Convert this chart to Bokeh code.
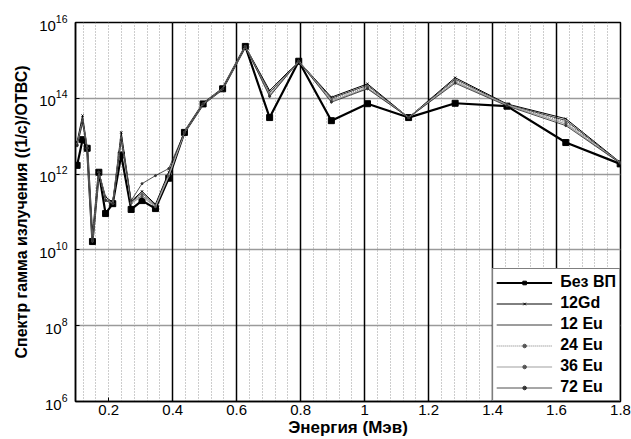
from bokeh.plotting import figure
from bokeh.models import (FixedTicker, Grid, Legend, LegendItem, ColumnDataSource, Range1d)
from bokeh.embed import file_html
from bokeh.resources import INLINE

# ---- data ----
energy = [0.101, 0.118, 0.1325, 0.149, 0.169, 0.19, 0.2125, 0.239, 0.27, 0.304, 0.346, 0.3875,
          0.4366, 0.495, 0.556, 0.627, 0.703, 0.794, 0.896, 1.009, 1.1375, 1.283, 1.445, 1.629, 1.799]

bez_vp = [1.70e12, 8.1e12, 4.8e12, 1.66e10, 1.12e12, 9.1e10, 1.66e11, 3.2e12, 1.17e11, 2.0e11, 1.23e11, 7.8e11,
          1.26e13, 7.1e13, 1.78e14, 2.34e15, 3.1e13, 9.5e14, 2.57e13, 7.2e13, 3.1e13, 7.4e13, 6.2e13, 6.8e12, 1.86e12]
gd12 = [7.1e12, 3.5e13, 5.0e12, 1.8e10, 1.12e12, 2.5e11, 1.8e11, 1.26e13, 1.9e11, 3.5e11, 1.6e11, 1.12e12,
        1.26e13, 7.1e13, 1.78e14, 2.34e15, 1.6e14, 9.5e14, 1.07e14, 2.4e14, 3.1e13, 3.5e14, 7.1e13, 2.9e13, 2.05e12]
eu12 = [6.3e12, 2.8e13, 4.9e12, 1.75e10, 1.12e12, 2.2e11, 1.75e11, 1.0e13, 1.8e11, 3.2e11, 1.48e11, 1.0e12,
        1.26e13, 7.1e13, 1.78e14, 2.34e15, 1.4e14, 9.5e14, 1.0e14, 2.2e14, 3.1e13, 3.2e14, 6.9e13, 2.6e13, 2.0e12]
eu24 = [6.0e12, 2.5e13, 4.9e12, 1.7e10, 1.12e12, 2.1e11, 1.7e11, 8.9e12, 1.75e11, 2.8e11, 1.41e11, 9.3e11,
        1.26e13, 7.1e13, 1.78e14, 2.34e15, 1.26e14, 9.5e14, 9.3e13, 2.0e14, 3.1e13, 2.9e14, 6.8e13, 2.35e13, 2.0e12]
eu36 = [5.8e12, 2.3e13, 4.8e12, 1.7e10, 1.12e12, 2.05e11, 1.68e11, 8.3e12, 1.7e11, 2.6e11, 1.38e11, 8.9e11,
        1.26e13, 7.1e13, 1.78e14, 2.34e15, 1.17e14, 9.5e14, 8.5e13, 1.86e14, 3.1e13, 2.7e14, 6.6e13, 2.1e13, 1.95e12]
eu72 = [5.6e12, 2.2e13, 4.8e12, 1.7e10, 1.12e12, 2.0e11, 1.66e11, 7.9e12, 2.0e11, 5.6e11, 9.1e11, 1.4e12,
        1.26e13, 7.1e13, 1.78e14, 2.34e15, 1.12e14, 9.5e14, 7.9e13, 1.78e14, 3.1e13, 2.5e14, 6.3e13, 1.9e13, 1.95e12]

x_ticks = [0.2, 0.4, 0.6, 0.8, 1.0, 1.2, 1.4, 1.6, 1.8]
y_ticks = [1e6, 1e8, 1e10, 1e12, 1e14, 1e16]
x_labels = {1.0: "1"}

FONT = "Liberation Sans"

src = ColumnDataSource(dict(x=energy, bez=bez_vp, gd12=gd12, eu12=eu12, eu24=eu24, eu36=eu36, eu72=eu72))

p = figure(width=631, height=439, x_range=Range1d(0.096, 1.8), y_range=Range1d(1e6, 1e16),
           y_axis_type="log", output_backend="svg", toolbar_location=None,
           min_border_left=75, min_border_right=11, min_border_top=22, min_border_bottom=38)
p.background_fill_color = "white"
p.border_fill_color = "white"
p.outline_line_color = "black"
p.outline_line_width = 1.5

# grids
p.xgrid.visible = False
p.ygrid.ticker = FixedTicker(ticks=[1e8, 1e10, 1e12, 1e14])
p.ygrid.grid_line_color = "#9a9a9a"
p.ygrid.grid_line_width = 1.5

minor_x = [round(0.12 + 0.04 * i, 2) for i in range(42)]
g_minor = Grid(dimension=0, ticker=FixedTicker(ticks=minor_x), grid_line_color="#9a9a9a",
               grid_line_dash="1 2", grid_line_width=1)
g_major = Grid(dimension=0, ticker=FixedTicker(ticks=[0.4, 0.6, 0.8, 1.0, 1.2, 1.4, 1.6]),
               grid_line_color="black", grid_line_width=1.5)
p.add_layout(g_minor)
p.add_layout(g_major)

# axes
p.xaxis.ticker = FixedTicker(ticks=x_ticks)
p.xaxis.major_label_overrides = x_labels
p.yaxis.ticker = FixedTicker(ticks=y_ticks)
for ax in (p.xaxis[0], p.yaxis[0]):
    ax.major_tick_out = 0
    ax.major_tick_in = 4
    ax.minor_tick_out = 0
    ax.minor_tick_in = 0
    ax.axis_line_color = "black"
    ax.axis_line_width = 1.5
    ax.major_label_text_font = FONT
    ax.major_label_text_font_size = "15px"
    ax.major_label_text_color = "black"
    ax.axis_label_text_font = FONT
    ax.axis_label_text_font_style = "bold"
    ax.axis_label_text_color = "black"
p.xaxis.axis_label = "Энергия (Мэв)"
p.xaxis.axis_label_text_font_size = "17px"
p.xaxis.major_label_standoff = 3
p.xaxis.axis_label_standoff = 0
p.yaxis.axis_label = "Спектр гамма излучения ((1/с)/ОТВС)"
p.yaxis.axis_label_text_font_size = "16px"
p.yaxis.major_label_standoff = 8
p.yaxis.axis_label_standoff = 6

# lines
r_bez = p.line("x", "bez", source=src, line_color="black", line_width=2.2)
m_bez = p.scatter("x", "bez", source=src, marker="square", size=6, color="black")
r_gd = p.line("x", "gd12", source=src, line_color="black", line_width=1)
m_gd = p.scatter("x", "gd12", source=src, marker="x", size=3, line_color="black", line_width=1)
r_e12 = p.line("x", "eu12", source=src, line_color="#3a3a3a", line_width=1)
r_e24 = p.line("x", "eu24", source=src, line_color="#7a7a7a", line_width=1.2, line_dash="1 1")
m_e24 = p.scatter("x", "eu24", source=src, marker="circle", size=2, color="#555555")
r_e36 = p.line("x", "eu36", source=src, line_color="#a0a0a0", line_width=1.2)
m_e36 = p.scatter("x", "eu36", source=src, marker="circle", size=2, color="#555555")
r_e72 = p.line("x", "eu72", source=src, line_color="#222222", line_width=0.8)
m_e72 = p.scatter("x", "eu72", source=src, marker="circle", size=2, color="#333333")

legend = Legend(items=[
    LegendItem(label="Без ВП", renderers=[r_bez, m_bez]),
    LegendItem(label="12Gd", renderers=[r_gd, m_gd]),
    LegendItem(label="12 Eu", renderers=[r_e12]),
    LegendItem(label="24 Eu", renderers=[r_e24, m_e24]),
    LegendItem(label="36 Eu", renderers=[r_e36, m_e36]),
    LegendItem(label="72 Eu", renderers=[r_e72, m_e72]),
], location="bottom_right")
legend.label_text_font = FONT
legend.label_text_font_style = "bold"
legend.label_text_font_size = "16px"
legend.label_text_color = "black"
legend.glyph_width = 56
legend.glyph_height = 9
legend.label_height = 20
legend.label_standoff = 8
legend.spacing = 1
legend.padding = 3
legend.margin = 0
legend.border_line_color = "black"
legend.border_line_width = 1.5
legend.background_fill_alpha = 1
p.add_layout(legend)

open("out.html", "w").write(file_html(p, INLINE))
